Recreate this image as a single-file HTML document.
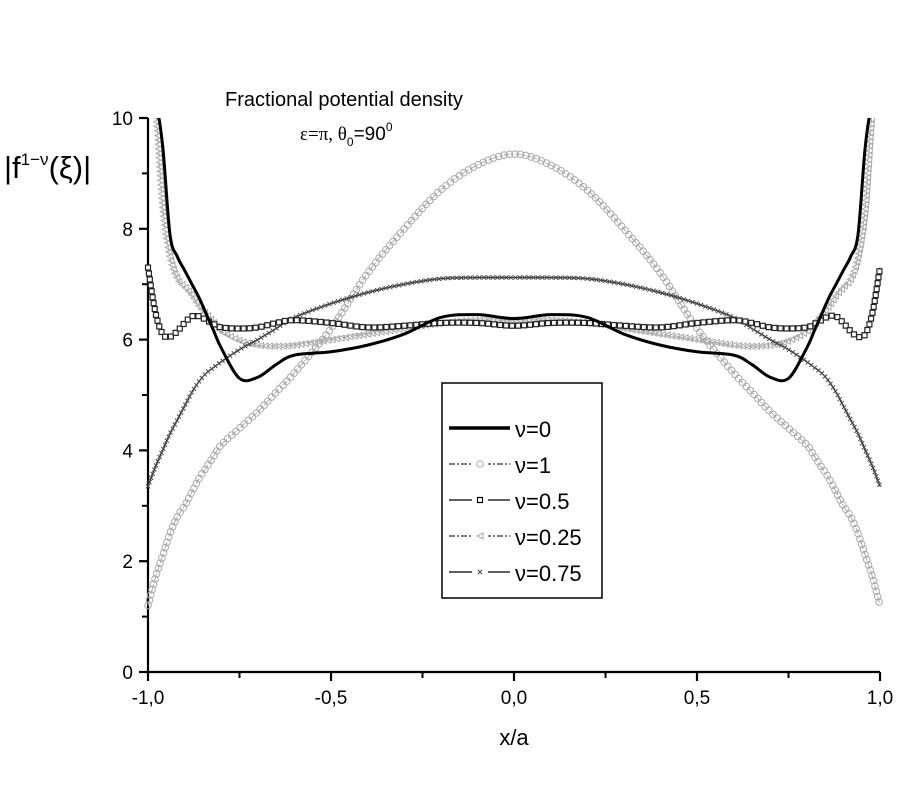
<!DOCTYPE html>
<html><head><meta charset="utf-8"><style>
body{margin:0;background:#fff;}
svg text{font-family:"Liberation Sans",sans-serif;}
</style></head><body>
<svg id="c" width="900" height="800" xmlns="http://www.w3.org/2000/svg">
<text x="225" y="106" font-size="20">Fractional potential density</text>
<text x="300" y="140" font-size="19"><tspan font-family="Liberation Serif">ε=π, θ</tspan><tspan font-size="12" dy="6">0</tspan><tspan dy="-6">=90</tspan><tspan font-size="12" dy="-9">0</tspan></text>
<text x="4" y="178" font-size="31">|f<tspan font-size="17" dy="-13">1−ν</tspan><tspan dy="13">(ξ)|</tspan></text>
<text x="514" y="745" font-size="22" text-anchor="middle">x/a</text>
<g id="axes"></g>
<g id="series"></g>
<g id="legend">
<rect x="442" y="383" width="160" height="215" fill="#fff" stroke="#000" stroke-width="1.5"/>
</g>
</svg>
<script>
const xHalf=[-1,-0.98,-0.96,-0.94,-0.92,-0.9,-0.88,-0.86,-0.84,-0.82,-0.8,-0.75,-0.7,-0.65,-0.6,-0.5,-0.4,-0.3,-0.2,-0.1,0];
const nu0=[10.5,10.3,9.5,7.9,7.5,7.25,7.0,6.75,6.45,6.15,5.85,5.3,5.32,5.55,5.72,5.78,5.9,6.1,6.4,6.45,6.38];
const nu1=[1.2,1.7,2.1,2.5,2.8,3.0,3.25,3.5,3.7,3.9,4.1,4.4,4.7,5.05,5.4,6.2,7.2,8.0,8.7,9.15,9.35];
const nu05=[7.3,6.5,6.1,6.05,6.15,6.3,6.42,6.42,6.35,6.28,6.22,6.2,6.22,6.3,6.35,6.3,6.22,6.25,6.3,6.3,6.25];
const nu025=[10.5,10.2,8.4,7.5,7.1,6.95,6.8,6.6,6.45,6.3,6.15,5.98,5.9,5.88,5.9,6.0,6.1,6.2,6.3,6.35,6.35];
const nu075=[3.35,3.7,4.0,4.3,4.55,4.8,5.05,5.25,5.4,5.5,5.6,5.82,6.0,6.2,6.4,6.65,6.85,7.0,7.1,7.12,7.12];
const xTicks=[-1,-0.5,0,0.5,1];
const xTickLabels=["-1,0","-0,5","0,0","0,5","1,0"];
const yTicks=[0,2,4,6,8,10];
const legendLabels=["ν=0","ν=1","ν=0.5","ν=0.25","ν=0.75"];

const NS="http://www.w3.org/2000/svg";
const X=v=>148+(v+1)*366;
const Y=v=>672-v*55.4;
function mk(t,a,p){const e=document.createElementNS(NS,t);for(const k in a)e.setAttribute(k,a[k]);p.appendChild(e);return e;}
const axes=document.getElementById('axes');
const ln=mk('path',{d:`M${X(-1)},${Y(10)}V${Y(0)}H${X(1)}`,fill:'none',stroke:'#000','stroke-width':2.2},axes);

xTicks.forEach((t,i)=>{
 const tk=mk('line',{x1:X(t),x2:X(t),y1:Y(0),y2:Y(0)+9,stroke:'#000','stroke-width':2.2},axes);
 
 if(i<xTicks.length-1){const m=mk('line',{x1:X(t+0.25),x2:X(t+0.25),y1:Y(0),y2:Y(0)+6,stroke:'#000','stroke-width':2},axes);
 }
 const tx=mk('text',{x:X(t),y:Y(0)+32,'font-size':19,'text-anchor':'middle'},axes);tx.textContent=xTickLabels[i];
 
});
yTicks.forEach((t,i)=>{
 const tk=mk('line',{x1:X(-1)-9,x2:X(-1),y1:Y(t),y2:Y(t),stroke:'#000','stroke-width':2.2},axes);
 
 if(i<yTicks.length-1){const m=mk('line',{x1:X(-1)-6,x2:X(-1),y1:Y(t+1),y2:Y(t+1),stroke:'#000','stroke-width':2},axes);
 }
 const tx=mk('text',{x:X(-1)-15,y:Y(t)+7,'font-size':19,'text-anchor':'end'},axes);tx.textContent=String(t);
 
});
const xsFull=xHalf.concat(xHalf.slice(0,-1).reverse().map(v=>-v));
function full(a){return a.concat(a.slice(0,-1).reverse());}
function pts(a){const f=full(a);return xsFull.map((x,i)=>[X(x),Math.max(Y(Math.min(f[i],10.4)),Y(10.4))]);}
function pathD(p){let d=`M${p[0][0]},${p[0][1]}`;for(let i=0;i<p.length-1;i++){const p0=p[Math.max(i-1,0)],p1=p[i],p2=p[i+1],p3=p[Math.min(i+2,p.length-1)];
 d+=`C${p1[0]+(p2[0]-p0[0])/6},${p1[1]+(p2[1]-p0[1])/6} ${p2[0]-(p3[0]-p1[0])/6},${p2[1]-(p3[1]-p1[1])/6} ${p2[0]},${p2[1]}`;}return d;}
const ser=document.getElementById('series');
const clip=mk('clipPath',{id:'clp'},ser);mk('rect',{x:140,y:Y(10),width:750,height:Y(0)-Y(10)},clip);
const defs=[{d:nu1,col:'#aaa',w:1,m:'circle',dash:'6 2 2 2',name:'series-nu-1'},
{d:nu025,col:'#aaa',w:1,m:'tri',dash:'6 2 2 2',name:'series-nu-0-25'},
{d:nu075,col:'#444',w:1.2,m:'x',dash:'',name:'series-nu-0-75'},
{d:nu05,col:'#222',w:1.2,m:'sq',dash:'',name:'series-nu-0-5'},
{d:nu0,col:'#000',w:3,m:'',dash:'',name:'series-nu-0'}];
function marker(type,x,y,col,g){
 if(type==='circle')mk('circle',{cx:x,cy:y,r:3.3,fill:'none',stroke:col,'stroke-width':1},g);
 else if(type==='sq')mk('rect',{x:x-2.5,y:y-2.5,width:5,height:5,fill:'#fff',stroke:col,'stroke-width':1.2},g);
 else if(type==='tri')mk('path',{d:`M${x+3},${y-3}L${x-3},${y}L${x+3},${y+3}Z`,fill:'none',stroke:col,'stroke-width':1},g);
 else if(type==='x')mk('path',{d:`M${x-2},${y-2}L${x+2},${y+2}M${x-2},${y+2}L${x+2},${y-2}`,stroke:col,'stroke-width':1},g);
}
defs.forEach(s=>{
 const g=mk('g',{'clip-path':'url(#clp)'},ser);
 
 const p=mk('path',{d:pathD(pts(s.d)),fill:'none',stroke:s.col,'stroke-width':s.w,'stroke-dasharray':s.dash},g);
 if(s.m){const L=p.getTotalLength();const step=s.m==='circle'?5.5:s.m==='sq'?6:4.5;
  for(let l=0;l<=L;l+=step){const q=p.getPointAtLength(l);marker(s.m,q.x,q.y,s.col,g);}}
});
const lg=document.getElementById('legend');
const lStyles=[{w:3.5,dash:'',m:'',col:'#000'},{w:1,dash:'6 2 2 2',m:'circle',col:'#aaa'},{w:1.2,dash:'',m:'sq',col:'#000'},{w:1,dash:'6 2 2 2',m:'tri',col:'#aaa'},{w:1.2,dash:'',m:'x',col:'#444'}];
legendLabels.forEach((lab,i)=>{
 const y=428+i*36;const st=lStyles[i];
 const g=mk('g',{},lg);
 mk('line',{x1:449,x2:510,y1:y,y2:y,stroke:'#000','stroke-width':st.w,'stroke-dasharray':st.dash},g);
 if(st.m){mk('rect',{x:472,y:y-5,width:16,height:10,fill:'#fff'},g);marker(st.m,480,y,st.col,g);}
 const t=mk('text',{x:515,y:y+9,'font-size':22},g);t.textContent=lab;
});
</script>
</body></html>
